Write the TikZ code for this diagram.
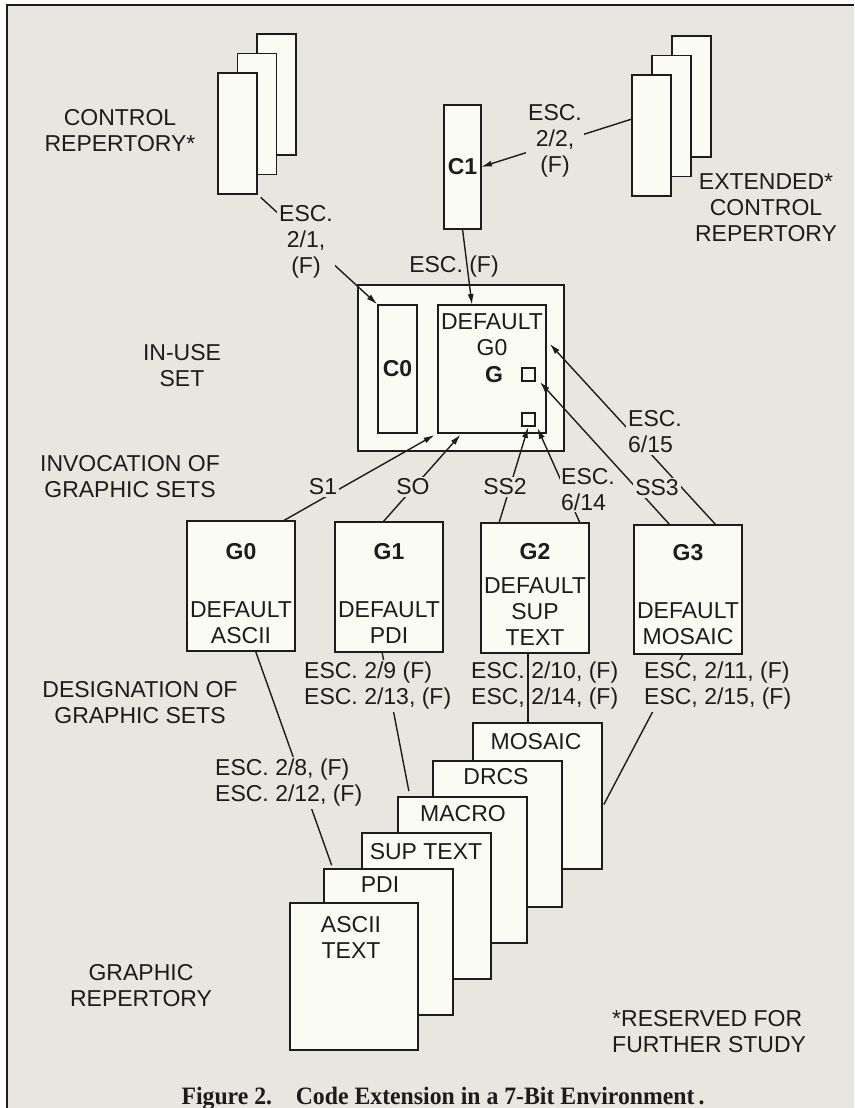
\documentclass[tikz,border=0pt]{standalone}
\usepackage{graphicx}
\usepackage{fontspec}
\setmainfont{Liberation Sans}
\newfontfamily\capfont{Liberation Serif}
\usetikzlibrary{arrows.meta}
\definecolor{bgc}{RGB}{231,230,224}
\definecolor{cardc}{RGB}{251,251,246}
\definecolor{inkc}{RGB}{28,28,28}
\begin{document}
\begin{tikzpicture}[x=1pt,y=-1pt,
  card/.style={draw=inkc, fill=cardc, line width=1.5pt, inner sep=0pt, outer sep=0pt, anchor=north west},
  cardb/.style={card, font=\fontsize{23}{26}\selectfont\bfseries, text=inkc},
  lbl/.style={font=\fontsize{23}{26}\selectfont, text=inkc, align=center, inner sep=0pt},
  blbl/.style={lbl, font=\fontsize{23}{26}\selectfont\bfseries},
  mask/.style={lbl, fill=bgc, inner sep=2pt},
  conn/.style={draw=inkc, line width=1.4pt},
  arr/.style={conn, -{Latex[length=11pt,width=6pt]}},
]
\useasboundingbox (0,0) rectangle (854,1108);
\fill[white] (0,0) rectangle (854,1108);
\fill[bgc] (7,5) rectangle (854,1108);
\draw[inkc, line width=1.2pt] (7,1108) -- (7,5) -- (854,5);

% control repertory stack
\node[card, minimum width=39pt, minimum height=121pt] (crB) at (257,34) {};
\node[card, minimum width=39pt, minimum height=121pt] (crM) at (237.5,53.5) {};
\node[card, minimum width=39pt, minimum height=121pt] (crF) at (218,73) {};
\node[lbl] (crlab) at (120,131) {CONTROL\\REPERTORY*};

% extended control repertory stack
\node[card, minimum width=39pt, minimum height=121pt] (extB) at (672,36) {};
\node[card, minimum width=39pt, minimum height=121pt] (extM) at (652,55.5) {};
\node[card, minimum width=39pt, minimum height=121pt] (extF) at (632,75) {};
\node[lbl] (extlab) at (766,208) {EXTENDED*\\CONTROL\\REPERTORY};

% C1
\node[cardb, minimum width=37pt, minimum height=124pt] (C1) at (444,105) {C1};

% in-use set
\node[card, minimum width=206pt, minimum height=166pt] (inuse) at (358,285) {};
\node[cardb, minimum width=39pt, minimum height=128pt] (C0) at (378,305) {C0};
\node[card, minimum width=108pt, minimum height=128pt] (DG) at (438,305) {};
\node[lbl] (dgt) at (492,335) {DEFAULT\\G0};
\node[blbl] (gt) at (494,375) {G};
\node[card, line width=1.2pt, minimum width=13pt, minimum height=13pt] (sq1) at (522,368) {};
\node[card, line width=1.2pt, minimum width=13pt, minimum height=13pt] (sq2) at (522,413) {};

% side labels
\node[lbl] (inuselab) at (182,366) {IN-USE\\SET};
\node[lbl] (invlab) at (130,477) {INVOCATION OF\\GRAPHIC SETS};
\node[lbl] (deslab) at (140,703) {DESIGNATION OF\\GRAPHIC SETS};
\node[lbl] (grlab) at (141,986) {GRAPHIC\\REPERTORY};
\node[lbl, align=left, anchor=west] (reslab) at (612,1032) {*RESERVED FOR\\FURTHER STUDY};

% G boxes
\node[card, minimum width=108pt, minimum height=130pt] (G0) at (187,521) {};
\node[card, minimum width=108pt, minimum height=130pt] (G1) at (335,522) {};
\node[card, minimum width=108pt, minimum height=130pt] (G2) at (481,523) {};
\node[card, minimum width=108pt, minimum height=129pt] (G3) at (634,525) {};
\node[blbl] (g0t) at (241,552) {G0};
\node[lbl] (g0d) at (241,623) {DEFAULT\\ASCII};
\node[blbl] (g1t) at (389,552) {G1};
\node[lbl] (g1d) at (389,623) {DEFAULT\\PDI};
\node[blbl] (g2t) at (535,552) {G2};
\node[lbl] (g2d) at (535,612) {DEFAULT\\SUP\\TEXT};
\node[blbl] (g3t) at (688,553) {G3};
\node[lbl] (g3d) at (688,624) {DEFAULT\\MOSAIC};

% graphic repertory stack
\node[card, minimum width=129pt, minimum height=146pt] (mosaic) at (473,723) {};
\node[card, minimum width=129pt, minimum height=146pt] (drcs) at (433,761) {};
\node[card, minimum width=129pt, minimum height=146pt] (macro) at (398,797) {};
\node[card, minimum width=129pt, minimum height=146pt] (sup) at (362,833) {};
\node[card, minimum width=129pt, minimum height=146pt] (pdi) at (324,869) {};
\node[card, minimum width=128pt, minimum height=147pt] (ascii) at (290,903) {};
\node[lbl] (tmosaic) at (536,742) {MOSAIC};
\node[lbl] (tdrcs) at (496,777) {DRCS};
\node[lbl] (tmacro) at (463,814) {MACRO};
\node[lbl] (tsup) at (426,852) {SUP TEXT};
\node[lbl] (tpdi) at (380,885) {PDI};
\node[lbl] (tascii) at (351,937) {ASCII\\TEXT};

% connectors: control sets
\draw[arr, shorten <=5pt, shorten >=1pt] (crF.south east) -- (C0.north west);
\draw[arr] ([yshift=16.5pt]extF.west) -- (C1.east);
\draw[arr] (C1.south) -- ([xshift=-20pt]DG.north);

% connectors: invocation
\draw[arr, shorten >=4pt] ([xshift=42pt]G0.north) -- (DG.south west);
\draw[arr, shorten >=2pt] ([xshift=-6pt]G1.north) -- ([xshift=-30pt]DG.south);
\draw[arr, shorten >=1pt] ([xshift=-36pt]G2.north) -- (sq2.south);
\draw[arr, shorten >=1pt] ([xshift=45pt]G2.north) -- ([shift={(2pt,-1pt)}]sq2.south east);
\draw[arr, shorten >=1pt] ([xshift=-18pt]G3.north) -- ([xshift=4pt]sq1.south east);
\draw[arr, shorten >=1pt] ([xshift=28pt]G3.north) -- ([shift={(3pt,26pt)}]DG.east);

% connectors: designation
\draw[conn, shorten >=4pt] ([xshift=14.5pt]G0.south) -- ([xshift=9pt]pdi.north west);
\draw[conn, shorten >=6pt] ([xshift=-7pt]G1.south) -- ([xshift=12pt]macro.north west);
\draw[conn] ([xshift=-7pt]G2.south) -- ([xshift=-7pt]G2.south |- mosaic.north);
\draw[conn, shorten >=4pt] ([xshift=-5pt]G3.south) -- ([yshift=-12pt]mosaic.east);

% connector labels
\node[mask] (l21) at (306,242) {ESC.\\2/1,\\(F)};
\node[mask] (l22) at (555,141) {ESC.\\2/2,\\(F)};
\node[lbl] (lf) at (454,267) {ESC. (F)};
\node[mask] (ls1) at (323,487) {S1};
\node[mask] (lso) at (413,487) {SO};
\node[mask] (lss2) at (505,487) {SS2};
\node[mask, inner sep=1pt, align=left, anchor=west] (l614) at (560,490) {ESC.\\6/14};
\node[mask] (lss3) at (657,488) {SS3};
\node[mask, align=left, anchor=west] (l615) at (626,432) {ESC.\\6/15};
\node[mask, align=left, anchor=west] (d0) at (213,783) {ESC. 2/8, (F)\\ESC. 2/12, (F)};
\node[mask, align=left, anchor=west] (d1) at (302,686) {ESC. 2/9 (F)\\ESC. 2/13, (F)};
\node[lbl, align=left, anchor=west] (d2) at (471,686) {ESC. 2/10, (F)\\ESC, 2/14, (F)};
\node[mask, align=left, anchor=west] (d3) at (642,686) {ESC, 2/11, (F)\\ESC, 2/15, (F)};

% caption
\node[font=\capfont\bfseries\fontsize{25}{28}\selectfont, text=inkc, inner sep=0pt, anchor=base] (cap) at (443,1104) {\scalebox{0.95}[1]{Figure 2.\hspace{25pt}Code Extension in a 7-Bit Environment\,.}};
\end{tikzpicture}
\end{document}
